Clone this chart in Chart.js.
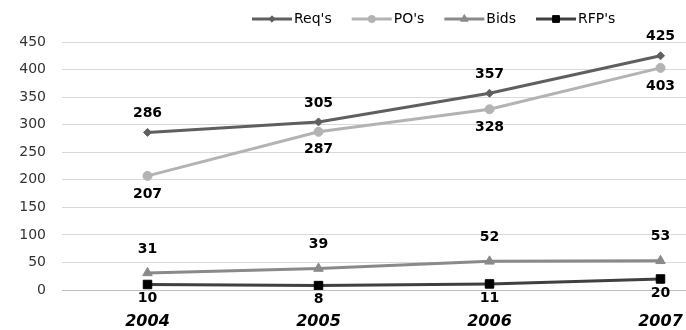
<!DOCTYPE html>
<html>
<head>
<meta charset="utf-8">
<script src="https://cdn.jsdelivr.net/npm/chart.js@4.4.0/dist/chart.umd.min.js"></script>
<style>
    html, body { margin: 0; padding: 0; background: #fff; overflow: hidden; }
    #wrap { position: absolute; left: 0; top: 0; width: 753px; height: 330px; }
</style>
</head>
<body>
<div id="wrap"><canvas id="chart"></canvas></div>
<script>
// Données du graphique
const annees = ['2004', '2005', '2006', '2007'];
const reqs = [286, 305, 357, 425];
const pos = [207, 287, 328, 403];
const bids = [31, 39, 52, 53];
const rfps = [10, 8, 11, 20];
const ticksY = [0, 50, 100, 150, 200, 250, 300, 350, 400, 450];

// Plugin pour les étiquettes de données
const etiquettes = {
    id: 'etiquettes',
    afterDatasetsDraw(chart) {
        const ctx = chart.ctx;
        ctx.save();
        ctx.font = 'bold 14px "DejaVu Sans"';
        ctx.fillStyle = '#000';
        ctx.textAlign = 'center';
        ctx.textBaseline = 'middle';
        chart.data.datasets.forEach((ds, i) => {
            const meta = chart.getDatasetMeta(i);
            meta.data.forEach((pt, j) => {
                ctx.fillText(ds.data[j], pt.x, pt.y + ds.decalage);
            });
        });
        ctx.restore();
    }
};

// Plugin pour la légende (ligne + marqueur)
const legende = {
    id: 'legende',
    afterDraw(chart) {
        const ctx = chart.ctx;
        ctx.save();
        ctx.font = '14px "DejaVu Sans"';
        ctx.textBaseline = 'middle';
        let x = 252;
        const y = 19;
        chart.data.datasets.forEach(ds => {
            ctx.strokeStyle = ds.borderColor;
            ctx.lineWidth = 3;
            ctx.beginPath();
            ctx.moveTo(x, y);
            ctx.lineTo(x + 40, y);
            ctx.stroke();
            ctx.lineWidth = 1;
            ctx.fillStyle = ds.pointBackgroundColor;
            ctx.strokeStyle = ds.pointBorderColor;
            Chart.helpers.drawPoint(ctx, {
                pointStyle: ds.pointStyle,
                radius: ds.pointRadius * 0.8,
                borderWidth: 1
            }, x + 20, y);
            ctx.fillStyle = '#000';
            ctx.fillText(ds.label, x + 42, y);
            x += 42 + ctx.measureText(ds.label).width + 20;
        });
        ctx.restore();
    }
};

function serie(label, data, ligne, marqueur, style, rayon, decalage) {
    return {
        label: label,
        data: data,
        borderColor: ligne,
        borderWidth: 3,
        pointStyle: style,
        pointRadius: rayon,
        pointBackgroundColor: marqueur,
        pointBorderColor: marqueur,
        pointBorderWidth: 1,
        tension: 0,
        decalage: decalage
    };
}

new Chart(document.getElementById('chart'), {
    type: 'line',
    data: {
        labels: annees,
        datasets: [
            serie("Req's", reqs, '#5f5f5f', '#5f5f5f', 'rectRot', 4, -19),
            serie("PO's", pos, '#b3b3b3', '#b3b3b3', 'circle', 4.5, 18),
            serie('Bids', bids, '#8a8a8a', '#8a8a8a', 'triangle', 5.5, -24),
            serie("RFP's", rfps, '#404040', '#000000', 'rect', 6, 14)
        ]
    },
    options: {
        responsive: true,
        maintainAspectRatio: false,
        animation: false,
        layout: { padding: { top: 42, right: 0, bottom: 0, left: 0 } },
        plugins: {
            legend: { display: false },
            tooltip: { enabled: false }
        },
        scales: {
            x: {
                offset: true,
                grid: { display: false, drawTicks: false },
                border: { color: '#bfbfbf', width: 1 },
                ticks: {
                    color: '#000',
                    font: { family: 'DejaVu Sans', size: 16, weight: 'bold', style: 'italic' },
                    padding: 22
                },
                afterFit(scale) { scale.height = 40; }
            },
            y: {
                min: 0,
                max: 450,
                afterBuildTicks(scale) { scale.ticks = ticksY.map(v => ({ value: v })); },
                grid: { color: '#d9d9d9', drawTicks: false },
                border: { display: false },
                ticks: {
                    color: '#333',
                    font: { family: 'DejaVu Sans', size: 14 },
                    padding: 16
                },
                afterFit(scale) { scale.width = 62; }
            }
        }
    },
    plugins: [etiquettes, legende]
});
</script>
</body>
</html>
